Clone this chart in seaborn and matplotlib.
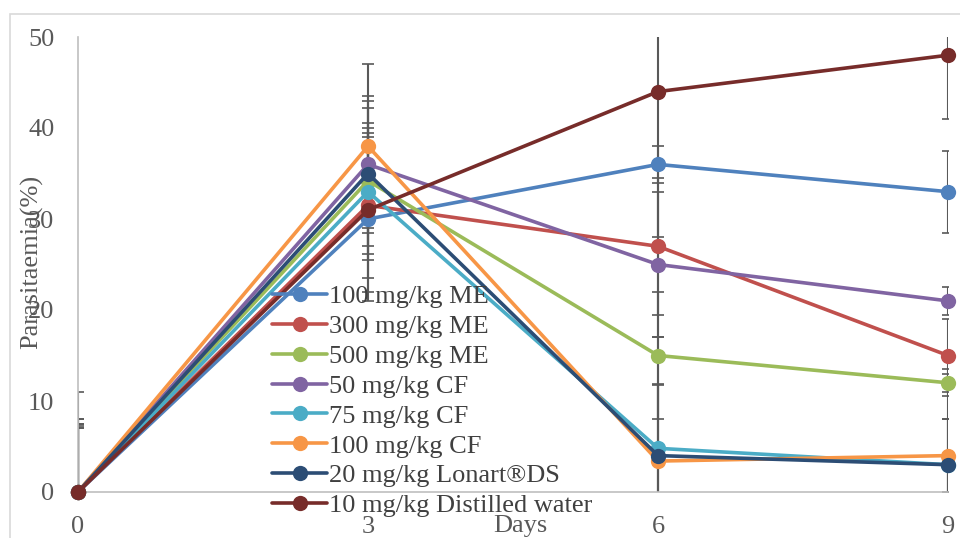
import pandas as pd
import matplotlib.pyplot as plt
import matplotlib.patches as mpatches
import seaborn as sns

# dias e series
days = [0, 3, 6, 9]
series = ['100 mg/kg ME', '300 mg/kg ME', '500 mg/kg ME', '50 mg/kg CF',
          '75 mg/kg CF', '100 mg/kg CF', '20 mg/kg Lonart®DS', '10 mg/kg Distilled water']
colors = ['#4F81BD', '#C0504D', '#9BBB59', '#8064A2',
          '#4BACC6', '#F79646', '#2C4D75', '#772C2A']

me100 = [0, 30.0, 36.0, 33.0]
me300 = [0, 31.5, 27.0, 15.0]
me500 = [0, 34.2, 15.0, 12.0]
cf50 = [0, 36.0, 25.0, 21.0]
cf75 = [0, 33.0, 4.8, 3.0]
cf100 = [0, 38.0, 3.4, 4.0]
lonart = [0, 35.0, 4.0, 3.0]
water = [0, 31.0, 44.0, 48.0]

err_me100 = [7.5, 9.0, 2.0, 4.5]
err_me300 = [7.2, 8.0, 7.5, 4.0]
err_me500 = [7.0, 8.0, 7.0, 1.5]
err_cf50 = [8.0, 7.5, 8.0, 1.5]
err_cf75 = [7.5, 7.5, 7.0, 5.0]
err_cf100 = [7.0, 9.0, 8.5, 4.0]
err_lonart = [8.0, 8.0, 13.0, 10.0]
err_water = [11.0, 9.0, 16.0, 7.0]

valores = [me100, me300, me500, cf50, cf75, cf100, lonart, water]
erros = [err_me100, err_me300, err_me500, err_cf50, err_cf75, err_cf100, err_lonart, err_water]

df = pd.DataFrame({
    'Days': days * len(series),
    'Parasitaemia': [v for vals in valores for v in vals],
    'Grupo': [s for s in series for _ in days],
})

sns.set_style('white')
plt.rcParams['font.family'] = ['Liberation Serif', 'DejaVu Serif']

fig = plt.figure(figsize=(9.6, 5.38), dpi=100)
ax = fig.add_axes([78 / 960, 1 - 492 / 538, 870 / 960, 455 / 538])

# barras de erro
for vals, err in zip(valores, erros):
    ax.errorbar(days, vals, yerr=err, fmt='none', ecolor='#595959',
                elinewidth=1.5, capsize=4, capthick=1.2, zorder=1)
n_err = len(ax.lines)

sns.lineplot(data=df, x='Days', y='Parasitaemia', hue='Grupo', hue_order=series,
             palette=colors, marker='o', markersize=11, markeredgewidth=0,
             linewidth=2.6, errorbar=None, ax=ax, zorder=3)
for ln in ax.lines[n_err:]:
    ln.set_clip_on(False)

ax.set_xlim(0, 9)
ax.set_ylim(0, 50)
ax.set_xticks(days)
ax.set_yticks([0, 10, 20, 30, 40, 50])
ax.tick_params(axis='both', labelsize=19, colors='#595959', length=0)
ax.tick_params(axis='y', pad=17)
ax.tick_params(axis='x', pad=17)
ax.set_xlabel('')
ax.set_ylabel('')
for s in ['top', 'right']:
    ax.spines[s].set_visible(False)
for s in ['left', 'bottom']:
    ax.spines[s].set_color('#BFBFBF')
    ax.spines[s].set_linewidth(1.2)

fig.text(32 / 960, 1 - 262 / 538, 'Parasitaemia(%)', rotation=90, ha='center', va='center',
         fontsize=19, color='#595959')
fig.text(520 / 960, 1 - 526 / 538, 'Days', ha='center', va='center', fontsize=19, color='#595959')

leg = ax.legend(frameon=False, loc='upper left', bbox_to_anchor=(272 / 960, 1 - 285 / 538),
                bbox_transform=fig.transFigure, fontsize=19, labelspacing=0.24,
                handlelength=2.1, handletextpad=0.05, borderpad=0, borderaxespad=0)
for t in leg.get_texts():
    t.set_color('#404040')

fig.patches.append(mpatches.Rectangle((10 / 960, -0.01), 1, 1 - 14 / 538 + 0.01, transform=fig.transFigure,
                                      fill=False, edgecolor='#D9D9D9', linewidth=1.2))

plt.savefig('out.png', dpi=100)
